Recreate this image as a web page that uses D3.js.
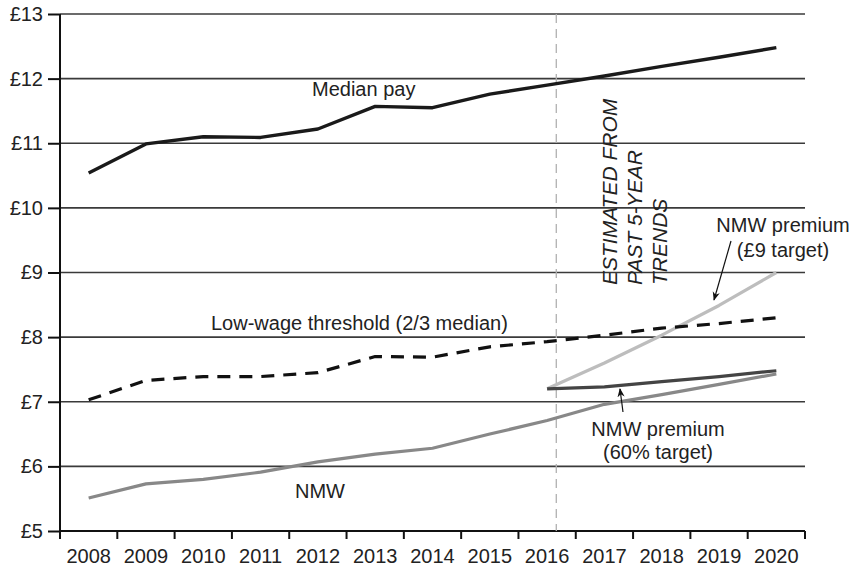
<!DOCTYPE html>
<html>
<head>
<meta charset="utf-8">
<script src="https://cdn.jsdelivr.net/npm/d3@7"></script>
<style>
  html, body { margin: 0; padding: 0; background: #fff; }
  svg { display: block; font-family: "Liberation Sans", Arial, sans-serif; }
</style>
</head>
<body>
<svg id="chart" width="859" height="569"></svg>
<script>
// ---- data ----
const years = [2008, 2009, 2010, 2011, 2012, 2013, 2014, 2015, 2016, 2017, 2018, 2019, 2020];
const medianPay = [10.54, 10.99, 11.10, 11.09, 11.22, 11.57, 11.55, 11.76, 11.90, 12.04, 12.19, 12.33, 12.48];
const lowWage = [7.03, 7.33, 7.39, 7.39, 7.45, 7.70, 7.69, 7.85, 7.93, 8.03, 8.14, 8.21, 8.30];
const nmw = [5.51, 5.73, 5.80, 5.91, 6.07, 6.19, 6.28, 6.50, 6.71, 6.96, 7.11, 7.27, 7.43];
const premiumYears = [2016, 2017, 2018, 2019, 2020];
const premium60 = [7.20, 7.23, 7.31, 7.39, 7.48];
const premium9 = [7.20, 7.60, 8.03, 8.49, 9.00];
const yTicks = [5, 6, 7, 8, 9, 10, 11, 12, 13];

(function () {
// ---- layout ----
const svg = d3.select("#chart");
const L = 60, R = 805, T = 14, B = 531;
const x = d3.scaleBand().domain(years).range([L, R]).padding(0);
const y = d3.scaleLinear().domain([5, 13]).range([B, T]);
const cx = d => x(d) + x.bandwidth() / 2;
const txt = "#222";

// gridlines
svg.append("g").selectAll("line").data(yTicks.slice(1)).join("line")
  .attr("x1", L).attr("x2", R)
  .attr("y1", d => y(d)).attr("y2", d => y(d))
  .attr("stroke", "#3a3a3a").attr("stroke-width", 1.6);

// y axis
const yAxis = svg.append("g").attr("transform", `translate(${L},0)`)
  .call(d3.axisLeft(y).tickValues(yTicks).tickFormat(d => "£" + d)
    .tickSize(12).tickSizeOuter(0).tickPadding(5));
yAxis.select(".domain").remove();
yAxis.selectAll(".tick line").attr("stroke", "#111").attr("stroke-width", 2);
yAxis.selectAll(".tick text").attr("font-size", 20).attr("fill", txt)
  .attr("font-family", "Liberation Sans, Arial, sans-serif");
svg.append("line").attr("x1", L).attr("x2", L).attr("y1", T).attr("y2", B)
  .attr("stroke", "#111").attr("stroke-width", 2);

// x axis
svg.append("line").attr("x1", L).attr("x2", R).attr("y1", B).attr("y2", B)
  .attr("stroke", "#111").attr("stroke-width", 2);
const boundaries = years.map(d => x(d)).concat([x(years[years.length - 1]) + x.bandwidth()]);
svg.append("g").selectAll("line").data(boundaries).join("line")
  .attr("x1", d => d).attr("x2", d => d).attr("y1", B).attr("y2", B + 8)
  .attr("stroke", "#111").attr("stroke-width", 2);
svg.append("g").selectAll("text").data(years).join("text")
  .attr("x", d => cx(d)).attr("y", 563)
  .attr("text-anchor", "middle").attr("font-size", 20).attr("fill", txt)
  .text(d => d);

// vertical dashed separator (between actual and estimated)
const sepX = x(2016) + x.bandwidth() * 0.66;
svg.append("line").attr("x1", sepX).attr("x2", sepX).attr("y1", T).attr("y2", B)
  .attr("stroke", "#b0b0b0").attr("stroke-width", 1.3).attr("stroke-dasharray", "9,6");

// lines
const line = d3.line().x(d => cx(d[0])).y(d => y(d[1]));
function drawSeries(xs, vals, color, width, dash) {
  const p = svg.append("path")
    .datum(xs.map((d, i) => [d, vals[i]]))
    .attr("d", line).attr("fill", "none")
    .attr("stroke", color).attr("stroke-width", width)
    .attr("stroke-linejoin", "round");
  if (dash) p.attr("stroke-dasharray", dash);
  return p;
}
drawSeries(years, nmw, "#888888", 3.2);
drawSeries(premiumYears, premium9, "#bdbdbd", 3.2);
drawSeries(premiumYears, premium60, "#444444", 3.2);
drawSeries(years, lowWage, "#111111", 3.2, "13,9");
drawSeries(years, medianPay, "#1a1a1a", 3.4);

// arrows
svg.append("defs").append("marker")
  .attr("id", "arrow").attr("viewBox", "0 0 10 10").attr("refX", 9).attr("refY", 5)
  .attr("markerWidth", 9).attr("markerHeight", 9).attr("orient", "auto")
  .attr("markerUnits", "userSpaceOnUse")
  .append("path").attr("d", "M0,1 L10,5 L0,9 L3,5 Z").attr("fill", "#111");
svg.append("line").attr("x1", 731).attr("y1", 241).attr("x2", 714).attr("y2", 300)
  .attr("stroke", "#111").attr("stroke-width", 1.2).attr("marker-end", "url(#arrow)");
svg.append("line").attr("x1", 623).attr("y1", 412).attr("x2", 620).attr("y2", 389)
  .attr("stroke", "#111").attr("stroke-width", 1.2).attr("marker-end", "url(#arrow)");

// labels
function label(xp, yp, s, anchor) {
  svg.append("text").attr("x", xp).attr("y", yp).attr("font-size", 20)
    .attr("fill", txt).attr("text-anchor", anchor || "start").text(s);
}
label(312, 96, "Median pay");
label(211, 330, "Low-wage threshold (2/3 median)");
label(295, 498, "NMW");
label(658, 436, "NMW premium", "middle");
label(658, 459, "(60% target)", "middle");
label(783, 232, "NMW premium", "middle");
label(783, 257, "(£9 target)", "middle");

// rotated note
const note = ["ESTIMATED FROM", "PAST 5-YEAR", "TRENDS"];
const noteX = [617, 642, 667];
note.forEach((s, i) => {
  svg.append("text")
    .attr("transform", `translate(${noteX[i]},285) rotate(-90)`)
    .attr("font-size", 21).attr("font-style", "italic").attr("fill", txt)
    .text(s);
});
})();
</script>
</body>
</html>
